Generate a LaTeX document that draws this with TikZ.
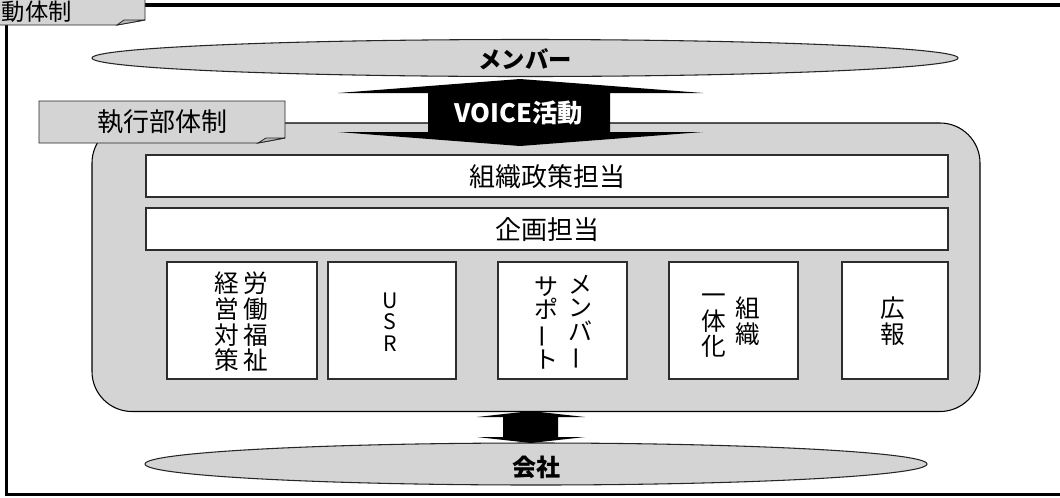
\documentclass[tikz,border=0pt]{standalone}
\usepackage{fontspec}
\newfontfamily\jp{Noto Sans CJK JP}
\usetikzlibrary{shapes.geometric}
\definecolor{hatch}{RGB}{212,212,212}
\definecolor{foldc}{RGB}{185,185,185}
\definecolor{bdr}{RGB}{45,45,45}
\newcommand\vbar{\rotatebox[origin=c]{90}{ー}}
\tikzset{
  frame/.style={line width=2.3pt, draw=black},
  grp/.style={draw=black, fill=hatch, line width=0.8pt},
  tag/.style={draw=black!85, fill=hatch, line width=0.7pt},
  fold/.style={draw=black!85, fill=foldc, line width=0.6pt},
  wbox/.style={draw=bdr, fill=white, line width=1.1pt, inner sep=0pt},
  oval/.style={ellipse, draw=black!85, fill=hatch, line width=0.8pt, inner sep=0pt},
  blk/.style={fill=black},
  htext/.style={font=\jp\fontsize{19.5}{20}\selectfont, inner sep=0pt},
  btext/.style={font=\jp\bfseries\fontsize{17.5}{18}\selectfont, inner sep=0pt},
  vtext/.style={font=\jp\fontsize{18.5}{19.2}\selectfont, align=center, inner sep=0pt},
}
\begin{document}
\begin{tikzpicture}[x=0.75pt,y=-0.75pt]
\useasboundingbox (0,0) rectangle (1060,497);
\clip (0,0) rectangle (1060,497);
\fill[white] (0,0) rectangle (1060,497);

% outer frame
\draw[frame] (145,5) -- (1075,5);
\draw[frame] (6.5,20) -- (6.5,494.5) -- (1075,494.5);

% top tag
\path[tag] (-10,-10) -- (145,-10) -- (145,20) -- (117,25) -- (-10,25) -- cycle;
\path[fold] (117,25) -- (124,20) -- (145,20) -- cycle;
\node[htext, font=\jp\fontsize{17.5}{18}\selectfont, anchor=west] (toptag) at (1.5,11.5) {動体制};

% member ellipse
\node[oval, minimum width=866*0.75pt, minimum height=37*0.75pt] (mem) at (525,58) {};
\node[btext] (memt) at (525,59) {メンバー};

% executive group
\path[grp, rounded corners=30pt] (92,123) rectangle (980,411.5);
\coordinate (grptop) at (520,123);

% big double arrow
\path[blk] (520,79) -- (703,93) -- (610,93) -- (610,132) -- (703,132) -- (520,146)
  -- (338,132) -- (428,132) -- (428,93) -- (338,93) -- cycle;
\node[font=\jp\bfseries\fontsize{19}{20}\selectfont, text=white, inner sep=0pt] (voice) at (519,113) {VOICE活動};

% group tag
\path[tag] (39,101) -- (285,101) -- (285,138) -- (258,143) -- (39,143) -- cycle;
\path[fold] (258,143) -- (266,138) -- (285,138) -- cycle;
\node[htext] (exec) at (162,122) {執行部体制};

% wide boxes
\node[wbox, minimum width=802*0.75pt, minimum height=42*0.75pt] (soshiki) at (547,176) {};
\node[htext] (soshikit) at (547,177) {組織政策担当};
\node[wbox, minimum width=802*0.75pt, minimum height=42*0.75pt] (kikaku) at (547,229) {};
\node[htext] (kikakut) at (547,230) {企画担当};

% small boxes
\node[wbox, minimum width=150*0.75pt, minimum height=117*0.75pt] (b1) at (242,320.5) {};
\node[wbox, minimum width=128*0.75pt, minimum height=117*0.75pt] (b2) at (392,320.5) {};
\node[wbox, minimum width=129*0.75pt, minimum height=117*0.75pt] (b3) at (562.5,320.5) {};
\node[wbox, minimum width=129*0.75pt, minimum height=117*0.75pt] (b4) at (733.5,320.5) {};
\node[wbox, minimum width=106*0.75pt, minimum height=117*0.75pt] (b5) at (895,320.5) {};

% vertical texts
\node[vtext] (b1r) at (256,322) {労\\働\\福\\祉};
\node[vtext] (b1l) at (227,322) {経\\営\\対\\策};
\node[vtext, font=\jp\fontsize{16}{16}\selectfont] (b2t) at (390,322) {U\\S\\R};
\node[vtext, font=\jp\fontsize{18}{17.6}\selectfont] (b3r) at (580,323) {メ\\ン\\バ\\\vbar};
\node[vtext, font=\jp\fontsize{18}{17.6}\selectfont] (b3l) at (546,323) {サ\\ポ\\\vbar\\ト};
\node[vtext] (b4r) at (748,321) {組\\織};
\node[vtext] (b4l) at (714,326) {一\\体\\化};
\node[vtext] (b5t) at (893,321) {広\\報};

% company ellipse
\node[oval, minimum width=782*0.75pt, minimum height=42*0.75pt] (comp) at (536,464) {};
\node[btext, font=\jp\bfseries\fontsize{18}{19}\selectfont] (compt) at (536,467) {会社};

% small double arrow
\path[blk] (531,411) -- (585,417) -- (558,417) -- (558,437) -- (585,437) -- (531,443)
  -- (477,437) -- (503,437) -- (503,417) -- (477,417) -- cycle;
\end{tikzpicture}
\end{document}
